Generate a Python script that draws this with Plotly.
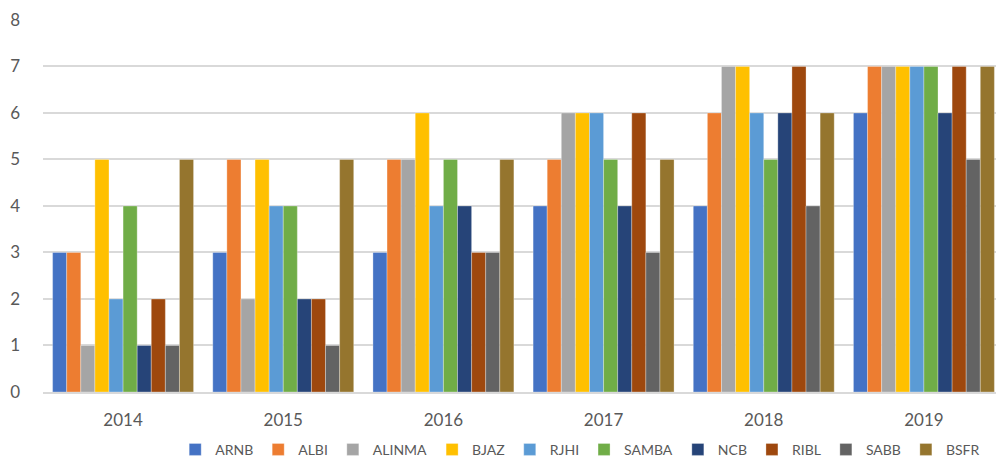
import plotly.graph_objects as go

years = ["2014", "2015", "2016", "2017", "2018", "2019"]
banks = ["ARNB", "ALBI", "ALINMA", "BJAZ", "RJHI", "SAMBA", "NCB", "RIBL", "SABB", "BSFR"]

ARNB = [3, 3, 3, 4, 4, 6]
ALBI = [3, 5, 5, 5, 6, 7]
ALINMA = [1, 2, 5, 6, 7, 7]
BJAZ = [5, 5, 6, 6, 7, 7]
RJHI = [2, 4, 4, 6, 6, 7]
SAMBA = [4, 4, 5, 5, 5, 7]
NCB = [1, 2, 4, 4, 6, 6]
RIBL = [2, 2, 3, 6, 7, 7]
SABB = [1, 1, 3, 3, 4, 5]
BSFR = [5, 5, 5, 5, 6, 7]

series = [ARNB, ALBI, ALINMA, BJAZ, RJHI, SAMBA, NCB, RIBL, SABB, BSFR]
colors = ["#4472C4", "#ED7D31", "#A5A5A5", "#FFC000", "#5B9BD5",
          "#70AD47", "#264478", "#9E480E", "#636363", "#95752E"]

fig = go.Figure()
for name, vals, col in zip(banks, series, colors):
    fig.add_trace(go.Bar(x=years, y=vals, name=name,
                         marker=dict(color=col, line=dict(color="rgba(255,255,255,0.5)", width=0.6))))

tick_fam = "Lato, 'Open Sans', sans-serif"
# the page body adds an 8px offset, so the figure is sized to the visible area
fig.update_layout(
    width=996, height=454,
    margin=dict(l=35, r=0, t=11, b=70, autoexpand=False),
    plot_bgcolor="white", paper_bgcolor="white",
    barmode="group", bargap=0.12, bargroupgap=0,
    font=dict(family=tick_fam, size=16, color="#595959"),
    legend=dict(orientation="h", x=0.559, xanchor="center", y=-0.155, yanchor="middle",
                font=dict(family=tick_fam, size=14, color="#595959"), itemwidth=30,
                traceorder="normal"),
    showlegend=True,
)
fig.update_yaxes(range=[0, 8.02], dtick=1, tick0=0, showgrid=True, gridcolor="#D9D9D9", gridwidth=1.8,
                 zeroline=False, showline=False, ticklabelstandoff=22,
                 tickfont=dict(size=17, color="#595959"))
fig.update_xaxes(showline=True, linecolor="#D9D9D9", linewidth=1.8, ticks="",
                 ticklabelstandoff=12, tickfont=dict(size=17, color="#595959"))

fig.write_html("out.html")
